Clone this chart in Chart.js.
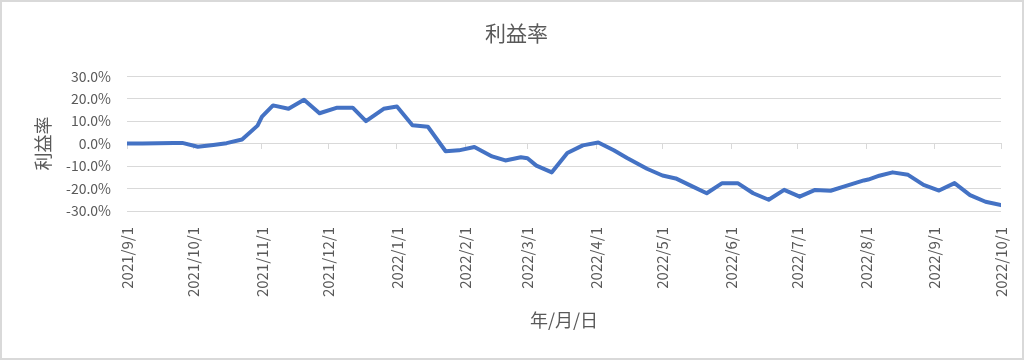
<!DOCTYPE html>
<html>
<head>
<meta charset="utf-8">
<script src="https://cdn.jsdelivr.net/npm/chart.js@4"></script>
<style>
  html, body { margin: 0; padding: 0; background: #fff; }
  #wrap { width: 1024px; height: 360px; box-sizing: border-box; border: 2px solid #d9d9d9; }
  canvas { display: block; }
</style>
</head>
<body>
<div id="wrap"><canvas id="chart" width="1020" height="356"></canvas></div>
<script>
// weekly dates and profit rate (%)
const dates = [
  '2021/9/1', '2021/9/8', '2021/9/15', '2021/9/22', '2021/9/26', '2021/10/3', '2021/10/10',
  '2021/10/16', '2021/10/23', '2021/10/30', '2021/11/1', '2021/11/6', '2021/11/13', '2021/11/20',
  '2021/11/27', '2021/12/5', '2021/12/12', '2021/12/18', '2021/12/26', '2022/1/1', '2022/1/8',
  '2022/1/15', '2022/1/23', '2022/1/29', '2022/2/5', '2022/2/13', '2022/2/19', '2022/2/26',
  '2022/3/1', '2022/3/5', '2022/3/12', '2022/3/19', '2022/3/26', '2022/4/2', '2022/4/9',
  '2022/4/15', '2022/4/24', '2022/5/1', '2022/5/7', '2022/5/14', '2022/5/21', '2022/5/28',
  '2022/6/4', '2022/6/11', '2022/6/18', '2022/6/25', '2022/7/2', '2022/7/9', '2022/7/16',
  '2022/7/23', '2022/7/31', '2022/8/2', '2022/8/7', '2022/8/13', '2022/8/20', '2022/8/27',
  '2022/9/3', '2022/9/10', '2022/9/17', '2022/9/24', '2022/10/1'
];
const rates = [
  0.0, 0.1, 0.2, 0.3, 0.3, -1.4, -0.6,
  0.2, 1.8, 8.0, 12.0, 17.0, 15.5, 19.5,
  13.5, 16.0, 16.0, 10.0, 15.5, 16.5, 8.2,
  7.5, -3.4, -3.0, -1.5, -5.7, -7.5, -6.1,
  -6.5, -9.8, -12.8, -4.2, -0.8, 0.5, -3.0,
  -6.4, -11.2, -14.2, -15.5, -18.8, -22.1, -17.6,
  -17.6, -22.1, -25.0, -20.6, -23.6, -20.6, -21.0,
  -18.8, -16.4, -16.0, -14.3, -12.8, -13.9, -18.4,
  -20.9, -17.6, -22.9, -25.9, -27.4
];
const monthTicks = [
  '2021/9/1', '2021/10/1', '2021/11/1', '2021/12/1', '2022/1/1', '2022/2/1', '2022/3/1',
  '2022/4/1', '2022/5/1', '2022/6/1', '2022/7/1', '2022/8/1', '2022/9/1', '2022/10/1'
];
const yTicks = [-30, -20, -10, 0, 10, 20, 30];

const base = Date.UTC(2021, 8, 1);
function dayOf(s) {
  const [y, m, d] = s.split('/').map(Number);
  return (Date.UTC(y, m - 1, d) - base) / 86400000;
}
const tickDays = monthTicks.map(dayOf);
const labelOf = {};
monthTicks.forEach((s, i) => { labelOf[tickDays[i]] = s; });

const font = 'Noto Sans CJK JP';
const grey = '#595959';
const gridCol = '#d9d9d9';

new Chart(document.getElementById('chart'), {
  type: 'line',
  data: {
    datasets: [{
      label: '利益率',
      data: dates.map((d, i) => ({ x: dayOf(d), y: rates[i] })),
      borderColor: '#4472C4',
      borderWidth: 4,
      pointRadius: 0,
      tension: 0,
      borderJoinStyle: 'round',
      borderCapStyle: 'round',
      fill: false
    }]
  },
  options: {
    responsive: false,
    animation: false,
    layout: { padding: { left: 30, right: 21, top: 0, bottom: 27 } },
    plugins: {
      legend: { display: false },
      tooltip: { enabled: false },
      title: {
        display: true,
        text: '利益率',
        color: grey,
        font: { family: font, size: 21, weight: 'normal' },
        padding: { top: 18, bottom: 31 }
      }
    },
    scales: {
      x: {
        type: 'linear',
        min: tickDays[0],
        max: tickDays[tickDays.length - 1],
        afterBuildTicks: s => { s.ticks = tickDays.map(v => ({ value: v })); },
        afterFit: s => { s.height = 120; s.paddingRight = 0; s.paddingLeft = 0; },
        grid: { display: false },
        border: { display: false },
        ticks: {
          autoSkip: false,
          minRotation: 90,
          maxRotation: 90,
          padding: 8,
          color: grey,
          font: { family: font, size: 15 },
          callback: v => labelOf[v]
        },
        title: {
          display: true,
          text: '年/月/日',
          color: grey,
          font: { family: font, size: 18 },
          padding: { top: 0, bottom: 0 }
        }
      },
      x0: {
        type: 'linear',
        position: { y: 0 },
        min: tickDays[0],
        max: tickDays[tickDays.length - 1],
        afterBuildTicks: s => { s.ticks = tickDays.map(v => ({ value: v })); },
        grid: { drawOnChartArea: false, drawTicks: true, tickLength: 5, color: gridCol },
        border: { display: true, color: gridCol },
        ticks: { display: false }
      },
      y: {
        min: -30,
        max: 30,
        afterBuildTicks: s => { s.ticks = yTicks.map(v => ({ value: v })); },
        afterFit: s => { s.width = 95; },
        grid: { color: gridCol, drawTicks: false },
        border: { display: false },
        ticks: {
          padding: 16,
          color: grey,
          font: { family: font, size: 14 },
          callback: v => v.toFixed(1) + '%'
        },
        title: {
          display: true,
          text: '利益率',
          color: grey,
          font: { family: font, size: 18 },
          padding: { top: 0, bottom: 10 }
        }
      }
    }
  }
});
</script>
</body>
</html>
